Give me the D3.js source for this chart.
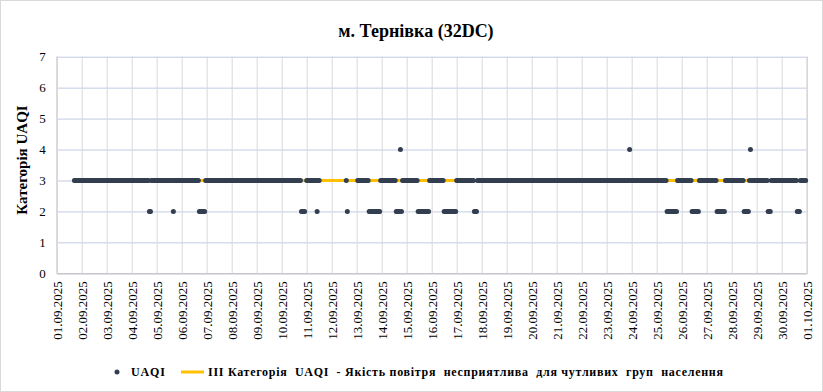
<!DOCTYPE html>
<html>
<head>
<meta charset="utf-8">
<script src="https://cdn.jsdelivr.net/npm/d3@7"></script>
<style>
  body{margin:0;background:#fff;}
  svg{display:block;}
  text{font-family:"Liberation Serif","Times New Roman",serif;fill:#000;}
</style>
</head>
<body>
<div id="chart"></div>
<script>
var chartTitle = "м. Тернівка (32DC)";
var yAxisTitle = "Категорія UAQI";
var seriesName = "UAQI";
var refName = "III Категорія  UAQI  - Якість повітря  несприятлива  для чутливих  груп  населення";
var refValue = 3;
var yTicks = [0,1,2,3,4,5,6,7];
var dayLabels = ["01.09.2025","02.09.2025","03.09.2025","04.09.2025","05.09.2025","06.09.2025",
  "07.09.2025","08.09.2025","09.09.2025","10.09.2025","11.09.2025","12.09.2025","13.09.2025",
  "14.09.2025","15.09.2025","16.09.2025","17.09.2025","18.09.2025","19.09.2025","20.09.2025",
  "21.09.2025","22.09.2025","23.09.2025","24.09.2025","25.09.2025","26.09.2025","27.09.2025",
  "28.09.2025","29.09.2025","30.09.2025","01.10.2025"];
// hourly UAQI category, one string per day (00..23 h), "." = no data
var hourlyUAQI = [
  ".................3333333", // 01.09
  "333333333333333333333333", // 02.09
  "333333333333333333333333", // 03.09
  "333333333333333332233333", // 04.09
  "333333333333333323333333", // 05.09
  "333333333333333332222223", // 06.09
  "333333333333333333333333", // 07.09
  "333333333333333333333333", // 08.09
  "333333333333333333333333", // 09.09
  "33333333333333333332222.", // 10.09
  "3333333333233...........", // 11.09
  "..............32........", // 12.09
  ".33333333333222222222223", // 13.09
  "333333333333332222423333", // 14.09
  "333333333332222222222233", // 15.09
  "333333333333222222222222", // 16.09
  "333333333333333332223333", // 17.09
  "333333333333333333333333", // 18.09
  "333333333333333333333333", // 19.09
  "333333333333333333333333", // 20.09
  "333333333333333333333333", // 21.09
  "333333333333333333333333", // 22.09
  "333333333333333333333343", // 23.09
  "333333333333333333333333", // 24.09
  "333333333322222222223333", // 25.09
  "333333333322222223333333", // 26.09
  "333333333322222222333333", // 27.09
  "333333333333222223433333", // 28.09
  "333333333332223333333333", // 29.09
  "333333333333333222333333"  // 30.09
];

var W = 823, H = 392;
var margin = {left:56.7, right:16.3, top:56.7, bottom:118.7};
var plotW = W - margin.left - margin.right;
var plotH = H - margin.top - margin.bottom;
var serif = "'Liberation Serif','Times New Roman',serif";

// expand day strings into hourly points
var points = [];
hourlyUAQI.forEach(function(day, d){
  day.split("").forEach(function(c, h){
    if(c >= "0" && c <= "9"){
      points.push({t: d*24 + h, v: +c});
    }
  });
});

var svg = d3.select("#chart").append("svg")
  .attr("width", W).attr("height", H);

svg.append("rect")
  .attr("x",0.5).attr("y",0.5).attr("width",W-1).attr("height",H-1)
  .attr("fill","#fff").attr("stroke","#d9d9d9");

var g = svg.append("g")
  .attr("transform","translate("+margin.left+","+margin.top+")");

var x = d3.scaleLinear().domain([0, (dayLabels.length-1)*24]).range([0, plotW]);
var y = d3.scaleLinear().domain([0, 7]).range([plotH, 0]);

// horizontal grid
var yAxis = g.append("g")
  .call(d3.axisLeft(y).tickValues(yTicks).tickSize(-plotW).tickPadding(9).tickFormat(d3.format("d")));
yAxis.attr("font-family", serif);
yAxis.select(".domain").remove();
yAxis.selectAll(".tick line").attr("stroke","#c0cbe2");
yAxis.selectAll(".tick text").attr("font-size","13px").attr("dx","-2");

// vertical grid + labels
var xAxis = g.append("g")
  .attr("transform","translate(0,"+plotH+")")
  .call(d3.axisBottom(x)
    .tickValues(dayLabels.map(function(l,i){ return i*24; }))
    .tickSize(-plotH)
    .tickFormat(function(d,i){ return dayLabels[i]; }));
xAxis.attr("font-family", serif);
xAxis.select(".domain").attr("stroke","#bfbfbf");
xAxis.selectAll(".tick line").attr("stroke","#d9d9d9");
xAxis.selectAll(".tick text")
  .attr("font-size","13px")
  .attr("transform","rotate(-90)")
  .attr("text-anchor","end")
  .attr("x",-8).attr("y",0).attr("dy","0.35em");

// left axis line
g.append("line").attr("x1",0).attr("x2",0).attr("y1",0).attr("y2",plotH)
  .attr("stroke","#d9d9d9");

// reference line (category III)
var tExt = d3.extent(points, function(p){ return p.t; });
g.append("path")
  .datum(tExt)
  .attr("fill","none")
  .attr("stroke","#ffc000")
  .attr("stroke-width",3)
  .attr("d", d3.line().x(function(t){ return x(t); }).y(function(){ return y(refValue); }));

// UAQI points
g.selectAll(".pt").data(points).enter().append("circle")
  .attr("class","pt")
  .attr("cx", function(p){ return x(p.t); })
  .attr("cy", function(p){ return y(p.v); })
  .attr("r", 2.5)
  .attr("fill","#333f50");

// titles
svg.append("text")
  .attr("x", 416).attr("y", 37)
  .attr("text-anchor","middle")
  .attr("font-size","18px").attr("font-weight","bold")
  .text(chartTitle);

svg.append("text")
  .attr("transform","translate(27,"+(margin.top+plotH/2-5)+") rotate(-90)")
  .attr("text-anchor","middle")
  .attr("font-size","15px").attr("font-weight","bold")
  .text(yAxisTitle);

// legend
var lg = svg.append("g").attr("transform","translate(0,372)");
lg.append("circle").attr("cx",117).attr("cy",0).attr("r",2.5).attr("fill","#333f50");
lg.append("text").attr("x",131).attr("y",4).attr("font-size","12px").attr("font-weight","bold")
  .attr("textLength",34).attr("lengthAdjust","spacing").text(seriesName);
lg.append("line").attr("x1",181).attr("x2",204).attr("y1",0).attr("y2",0)
  .attr("stroke","#ffc000").attr("stroke-width",3);
lg.append("text").attr("x",208).attr("y",4).attr("font-size","12px").attr("font-weight","bold")
  .style("white-space","pre")
  .attr("textLength",515).attr("lengthAdjust","spacing").text(refName);
</script>
</body>
</html>
